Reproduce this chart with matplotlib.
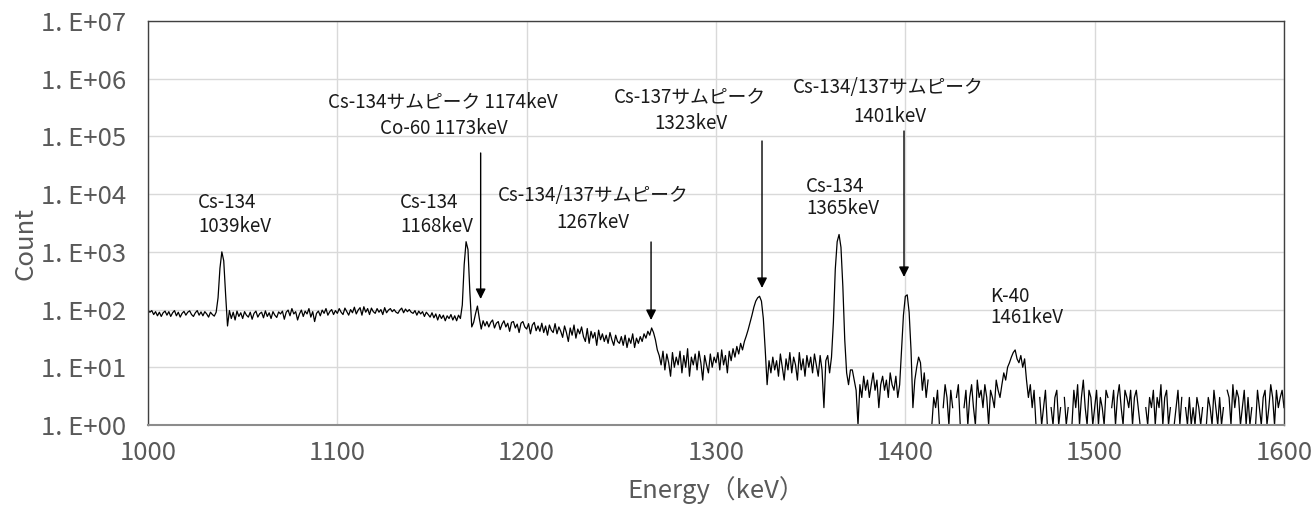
import numpy as np
import matplotlib
matplotlib.use("Agg")
import matplotlib.pyplot as plt
from matplotlib.ticker import NullLocator

# ---------------- data (counts per keV, 1000..1600 keV) ----------------
energy_start = 1000
counts = [
    98, 90, 96, 82, 92, 78, 90, 76, 88, 94,
    80, 92, 76, 88, 96, 78, 90, 74, 86, 93,
    80, 90, 95, 82, 76, 88, 96, 80, 91, 78,
    92, 84, 74, 90, 82, 77, 90, 160, 520, 1000,
    700, 180, 52, 96, 70, 90, 66, 94, 76, 88,
    70, 92, 80, 74, 90, 68, 86, 94, 74, 85,
    90, 72, 95, 76, 88, 70, 92, 80, 73, 91,
    84, 94, 68, 90, 98, 78, 104, 84, 92, 66,
    84, 98, 76, 94, 84, 104, 74, 92, 62, 86,
    94, 78, 98, 86, 104, 80, 92, 100, 82, 96,
    86, 104, 90, 82, 106, 92, 80, 100, 88, 110,
    84, 98, 108, 80, 112, 90, 104, 82, 106, 92,
    86, 104, 90, 100, 82, 108, 88, 98, 104, 92,
    100, 90, 86, 98, 106, 88, 102, 92, 100, 90,
    86, 96, 80, 94, 84, 92, 76, 90, 82, 74,
    88, 72, 84, 66, 82, 70, 80, 64, 78, 70,
    82, 66, 78, 64, 80, 70, 120, 600, 1500, 1100,
    200, 50, 60, 85, 115, 70, 46, 64, 52, 62,
    50, 60, 66, 48, 58, 62, 45, 56, 64, 50,
    58, 42, 60, 62, 48, 56, 40, 58, 62, 50,
    46, 57, 38, 54, 60, 43, 52, 42, 58, 40,
    52, 36, 54, 44, 40, 57, 38, 50, 42, 33,
    52, 40, 28, 48, 36, 54, 32, 46, 38, 50,
    34, 28, 47, 26, 42, 32, 40, 24, 44, 30,
    38, 28, 36, 26, 40, 30, 24, 36, 28, 26,
    34, 24, 36, 22, 32, 26, 38, 22, 32, 26,
    34, 28, 38, 32, 42, 36, 48, 40, 30, 20,
    16, 11, 19, 9, 17, 12, 7, 18, 10, 15,
    11, 19, 8, 16, 10, 21, 7, 15, 11, 17,
    9, 19, 12, 6, 16, 11, 8, 17, 10, 15,
    12, 18, 9, 20, 11, 16, 8, 19, 13, 21,
    15, 23, 17, 26, 20, 28, 35, 45, 60, 80,
    110, 140, 160, 170, 140, 70, 20, 5, 13, 8,
    15, 9, 13, 7, 17, 10, 6, 14, 9, 18,
    8, 15, 11, 6, 18, 9, 14, 7, 16, 10,
    15, 8, 17, 11, 7, 16, 9, 2, 13, 16,
    8, 15, 60, 500, 1500, 2000, 1200, 250, 30, 8,
    5, 9, 9, 6, 4, 1, 5, 3, 7, 4,
    6, 3, 5, 8, 4, 6, 2, 5, 7, 4,
    6, 3, 8, 5, 4, 7, 3, 5, 20, 80,
    170, 180, 90, 20, 2, 6, 10, 15, 12, 4,
    8, 3, 6, 0, 1, 3, 2, 4, 1, 0,
    2, 5, 3, 1, 4, 2, 0, 3, 5, 1,
    0, 2, 4, 1, 3, 5, 2, 1, 6, 3,
    4, 2, 5, 3, 1, 4, 3, 2, 6, 4,
    3, 5, 8, 6, 10, 12, 15, 18, 20, 14,
    12, 16, 10, 14, 6, 3, 5, 2, 4, 1,
    0, 3, 1, 2, 4, 1, 0, 2, 1, 3,
    4, 1, 2, 0, 3, 1, 2, 0, 1, 4,
    2, 5, 1, 3, 6, 2, 1, 4, 3, 1,
    2, 4, 1, 3, 2, 1, 4, 3, 0, 2,
    4, 1, 3, 5, 2, 1, 4, 3, 2, 4,
    1, 3, 4, 2, 1, 0, 0, 2, 1, 3,
    2, 4, 1, 3, 2, 5, 1, 3, 4, 1,
    2, 0, 1, 2, 4, 1, 3, 0, 2, 1,
    3, 1, 2, 1, 3, 2, 1, 2, 0, 1,
    3, 2, 1, 4, 2, 1, 3, 1, 2, 0,
    4, 3, 1, 5, 2, 4, 3, 1, 2, 4,
    1, 3, 1, 2, 0, 1, 4, 2, 1, 3,
    4, 1, 2, 5, 3, 1, 4, 2, 3, 4,
    2,
]

ytick_values = [1e0, 1e1, 1e2, 1e3, 1e4, 1e5, 1e6, 1e7]
ytick_labels = ["1. E+00", "1. E+01", "1. E+02", "1. E+03",
                "1. E+04", "1. E+05", "1. E+06", "1. E+07"]
xtick_values = [1000, 1100, 1200, 1300, 1400, 1500, 1600]
xtick_labels = ["1000", "1100", "1200", "1300", "1400", "1500", "1600"]

# labels: (text, energy, count exponent, alignment)
label_lines = [
    ("Cs-134", 1026.4, 3.847, "left"),
    ("1039keV", 1026.4, 3.448, "left"),
    ("Cs-134", 1133.1, 3.847, "left"),
    ("1168keV", 1133.1, 3.448, "left"),
    ("Cs-134サムピーク 1174keV", 1155.8, 5.597, "center"),
    ("Co-60 1173keV", 1156.3, 5.146, "center"),
    ("Cs-134/137サムピーク", 1235.0, 3.985, "center"),
    ("1267keV", 1235.0, 3.500, "center"),
    ("Cs-137サムピーク", 1286.1, 5.683, "center"),
    ("1323keV", 1286.6, 5.216, "center"),
    ("Cs-134", 1347.5, 4.124, "left"),
    ("1365keV", 1347.5, 3.743, "left"),
    ("Cs-134/137サムピーク", 1390.8, 5.840, "center"),
    ("1401keV", 1391.8, 5.337, "center"),
    ("K-40", 1444.7, 2.235, "left"),
    ("1461keV", 1444.7, 1.854, "left"),
]
# arrows: (energy, start exponent, tip exponent)
arrows = [
    (1175.7, 4.713, 2.183),
    (1265.7, 3.171, 1.819),
    (1324.3, 4.921, 2.374),
    (1399.3, 5.094, 2.565),
]

# ---------------- plot ----------------
energy = energy_start + np.arange(len(counts))
y = np.array(counts, dtype=float)
y[y <= 0] = np.nan

W, H = 1315, 505
fig = plt.figure(figsize=(W / 100, H / 100), dpi=100)
ax = fig.add_axes([148 / W, (505 - 425) / H, (1284 - 148) / W, (425 - 21) / H])

ax.plot(energy, y, color="black", lw=0.9)

ax.set_yscale("log")
ax.set_ylim(1, 1e7)
ax.set_xlim(1000, 1600)
ax.yaxis.set_minor_locator(NullLocator())
ax.set_yticks(ytick_values)
ax.set_yticklabels(ytick_labels)
ax.set_xticks(xtick_values)
ax.set_xticklabels(xtick_labels)
ax.grid(True, color="#d9d9d9", lw=1.0)
ax.set_axisbelow(True)

tick_font = ["Noto Sans CJK JP", "DejaVu Sans"]
for lab in ax.get_xticklabels() + ax.get_yticklabels():
    lab.set_family(tick_font)
    lab.set_fontsize(18.5)
    lab.set_color("#595959")
ax.tick_params(axis="both", length=0)
ax.tick_params(axis="x", pad=11)
ax.tick_params(axis="y", pad=16)

for side in ("top", "right", "left"):
    ax.spines[side].set_color("#404040")
    ax.spines[side].set_linewidth(1.0)
ax.spines["bottom"].set_color("#8c8c8c")
ax.spines["bottom"].set_linewidth(1.5)

ax.set_ylabel("Count", family=tick_font, fontsize=18.5, color="#595959")
ax.yaxis.label.set_va("center")
ax.yaxis.set_label_coords(-0.108, 0.45)
ax.set_xlabel("Energy（keV）", family=tick_font, fontsize=18.5, color="#595959")
ax.xaxis.label.set_va("center")
ax.xaxis.set_label_coords(0.5, -0.162)

ann_font = ["Noto Sans CJK JP", "DejaVu Sans"]
for text, ex, ey, ha in label_lines:
    ax.text(ex, 10 ** ey, text, ha=ha, va="center", fontsize=13.5,
            family=ann_font, color="#1a1a1a")

for ex, e0, e1 in arrows:
    ax.annotate("", xy=(ex, 10 ** e1), xytext=(ex, 10 ** e0),
                arrowprops=dict(arrowstyle="-|>", color="black", lw=1.0,
                                mutation_scale=15, shrinkA=0, shrinkB=0))

fig.savefig("out.png", dpi=100)
